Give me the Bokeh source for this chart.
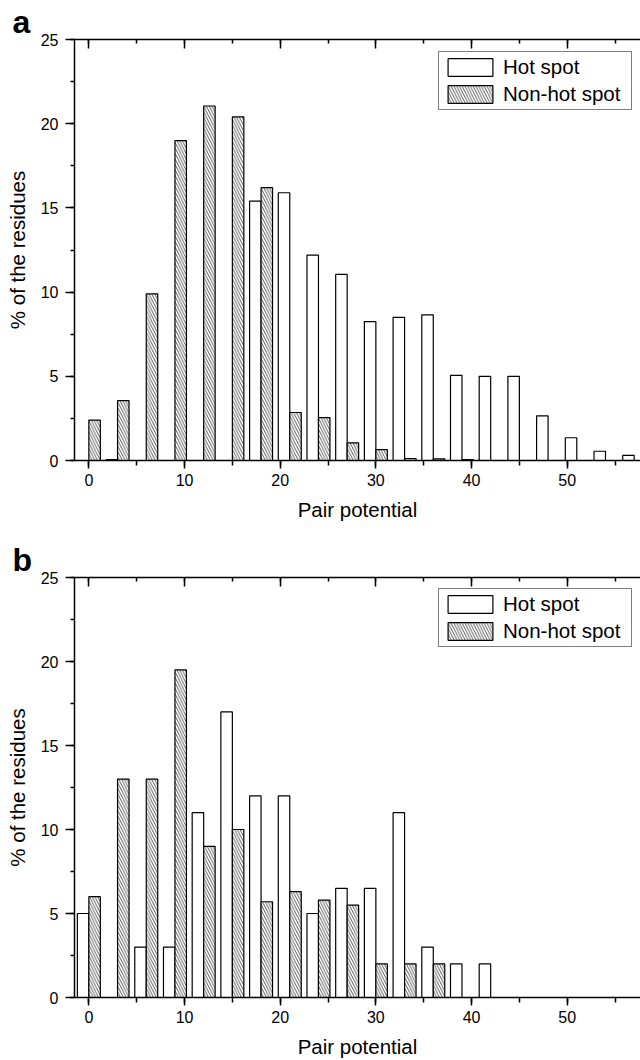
from bokeh.plotting import figure
from bokeh.models import (Range1d, LinearAxis, SingleIntervalTicker, ColumnDataSource,
                          Title, Legend, LegendItem)
from bokeh.layouts import column
from bokeh.transform import dodge
from bokeh.embed import file_html
from bokeh.resources import INLINE

# ---- data ----
pair_potential = [0, 3, 6, 9, 12, 15, 18, 21, 24, 27, 30, 33, 36, 39, 42, 45, 48, 51, 54, 57]

a_hot = [0, 0.05, 0, 0, 0, 0, 15.4, 15.9, 12.2, 11.05, 8.25, 8.5, 8.65, 5.05, 5.0, 5.0, 2.65, 1.35, 0.55, 0.3]
a_nonhot = [2.4, 3.55, 9.9, 19.0, 21.05, 20.4, 16.2, 2.85, 2.55, 1.05, 0.65, 0.12, 0.1, 0.05, 0, 0, 0, 0, 0, 0]

b_hot = [5, 0, 3, 3, 11, 17, 12, 12, 5, 6.5, 6.5, 11, 3, 2, 2, 0, 0, 0, 0, 0]
b_nonhot = [6, 13, 13, 19.5, 9, 10, 5.7, 6.3, 5.8, 5.5, 2, 2, 2, 0, 0, 0, 0, 0, 0, 0]

series_names = ["Hot spot", "Non-hot spot"]
panel_letters = ["a", "b"]
x_label = "Pair potential"
y_label = "% of the residues"

FONT = "Liberation Sans"


def make_panel(hot, nonhot, letter, height, top, bottom, letter_size):
    p = figure(width=640, height=height, output_backend="svg", toolbar_location=None,
               x_range=Range1d(-1.5, 57.66), y_range=Range1d(0, 25),
               min_border_left=74, min_border_right=0,
               min_border_top=top, min_border_bottom=bottom,
               x_axis_location=None, y_axis_location=None)
    p.grid.visible = False
    p.outline_line_color = None
    p.background_fill_color = "white"
    p.border_fill_color = "white"

    src = ColumnDataSource(dict(x=pair_potential, hot=hot, nonhot=nonhot))
    r_hot = p.vbar(x=dodge("x", -0.6, range=p.x_range), width=1.2, top="hot", bottom=0, source=src,
                   fill_color="white", line_color="black", line_width=1.2)
    r_non = p.vbar(x=dodge("x", 0.6, range=p.x_range), width=1.2, top="nonhot", bottom=0, source=src,
                   fill_color="white", line_color="black", line_width=1.2,
                   hatch_pattern="\\", hatch_color="#333333", hatch_weight=0.8, hatch_scale=5.5)

    def style(ax):
        ax.axis_line_color = "black"
        ax.axis_line_width = 1.5
        ax.major_tick_line_color = "black"
        ax.major_tick_line_width = 1.5
        ax.minor_tick_line_color = "black"
        ax.minor_tick_line_width = 1.5
        ax.major_label_text_color = "black"
        ax.major_label_text_font = FONT
        ax.major_label_text_font_size = "16px"
        ax.axis_label_text_font = FONT
        ax.axis_label_text_font_size = "20.5px"
        ax.axis_label_text_font_style = "normal"
        ax.axis_label_text_color = "black"

    xb = LinearAxis(ticker=SingleIntervalTicker(interval=10, num_minor_ticks=2),
                    axis_label=x_label)
    style(xb)
    xb.major_tick_out = 8
    xb.major_tick_in = 0
    xb.minor_tick_out = 5
    xb.minor_tick_in = 0
    xb.major_label_standoff = 5
    xb.axis_label_standoff = 9
    p.add_layout(xb, "below")

    xt = LinearAxis(ticker=SingleIntervalTicker(interval=10, num_minor_ticks=2))
    style(xt)
    xt.major_tick_out = 0
    xt.major_tick_in = 9
    xt.minor_tick_out = 0
    xt.minor_tick_in = 4
    xt.major_label_text_color = None
    xt.major_label_text_font_size = "1px"
    xt.major_label_standoff = 0
    p.add_layout(xt, "above")

    yl = LinearAxis(ticker=SingleIntervalTicker(interval=5, num_minor_ticks=2),
                    axis_label=y_label)
    style(yl)
    yl.major_tick_out = 9
    yl.major_tick_in = 0
    yl.minor_tick_out = 4
    yl.minor_tick_in = 0
    yl.major_label_standoff = 7
    yl.axis_label_standoff = 9
    p.add_layout(yl, "left")

    legend = Legend(items=[LegendItem(label=series_names[0], renderers=[r_hot]),
                           LegendItem(label=series_names[1], renderers=[r_non])],
                    location=(364, 350))
    legend.border_line_color = "black"
    legend.border_line_width = 1
    legend.background_fill_color = "white"
    legend.background_fill_alpha = 1
    legend.label_text_font = FONT
    legend.label_text_font_size = "20.5px"
    legend.label_text_color = "black"
    legend.glyph_width = 56
    legend.glyph_height = 22
    legend.label_height = 22
    legend.label_width = 125
    legend.label_standoff = 5
    legend.padding = 3
    legend.spacing = 3
    legend.margin = 0
    p.add_layout(legend, "center")

    p.title = Title(text=letter, align="left", offset=-62, standoff=0,
                    text_font=FONT, text_font_size=letter_size, text_font_style="bold",
                    text_color="black")
    return p


pa = make_panel(a_hot, a_nonhot, panel_letters[0], 524, 39, 64, "32px")
pb = make_panel(b_hot, b_nonhot, panel_letters[1], 536, 53, 63, "32px")

layout = column(pa, pb, spacing=0)
open("out.html", "w").write(file_html(layout, INLINE))
